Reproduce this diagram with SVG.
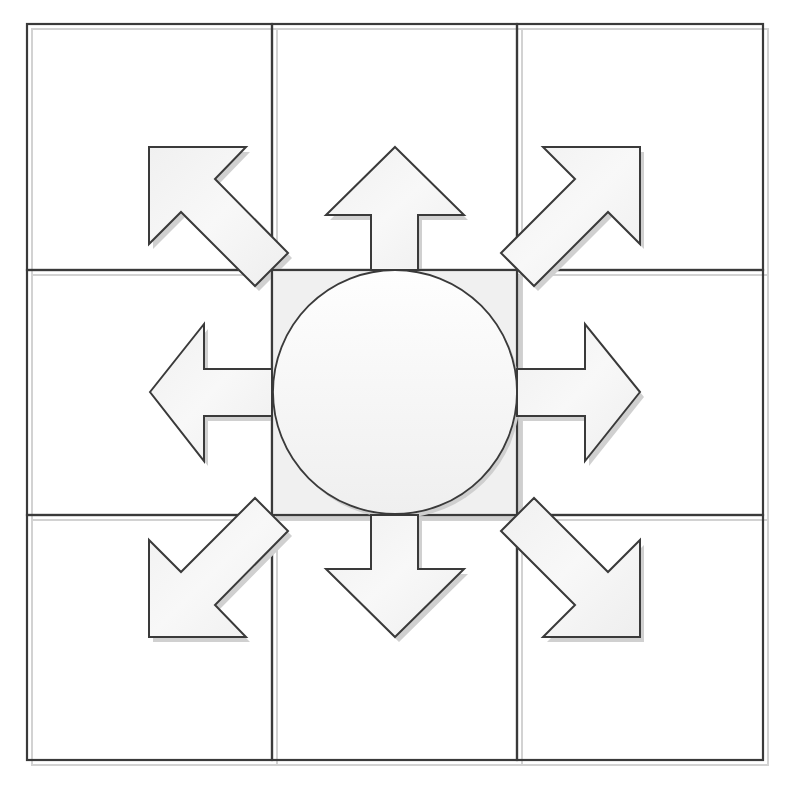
<svg xmlns="http://www.w3.org/2000/svg" xmlns:xlink="http://www.w3.org/1999/xlink" width="797" height="786" viewBox="0 0 797 786">
  <style>
    .cell { fill: none; stroke: #3a3a3a; stroke-width: 2.2; }
    .cellsh { fill: none; stroke: #d2d2d2; stroke-width: 2; }
    .arrow { fill: url(#agrad); stroke: #3a3a3a; stroke-width: 2; stroke-linejoin: miter; }
    .ash { fill: #d0d0d0; stroke: none; }
    .hub { fill: #f0f0f0; stroke: #3a3a3a; stroke-width: 2.2; }
    .hubsh { fill: #cfcfcf; }
    .circ { fill: url(#cgrad); stroke: #3a3a3a; stroke-width: 1.8; }
  </style>
  <defs>
    <linearGradient id="agrad" x1="0" y1="0" x2="1" y2="1">
      <stop offset="0" stop-color="#f0f0f0"/>
      <stop offset="0.5" stop-color="#f8f8f8"/>
      <stop offset="1" stop-color="#eeeeee"/>
    </linearGradient>
    <linearGradient id="cgrad" x1="0" y1="0" x2="0" y2="1">
      <stop offset="0" stop-color="#fefefe"/>
      <stop offset="1" stop-color="#efefef"/>
    </linearGradient>
    <polygon id="pNW" points="149,147 246,147 215,179 288,253 255,286 181,212 149,244"/>
    <polygon id="pN" points="395,147 464,215 418,215 418,270 371,270 371,215 326,215"/>
    <polygon id="pNE" points="640,147 543,147 575,179 501,253 534,286 608,212 640,244"/>
    <polygon id="pE" points="640,392 585,461 585,416 517,416 517,369 585,369 585,324"/>
    <polygon id="pSE" points="640,637 543,637 575,605 501,531 534,498 608,572 640,540"/>
    <polygon id="pS" points="395,637 464,569 418,569 418,515 371,515 371,569 326,569"/>
    <polygon id="pSW" points="149,637 246,637 215,605 288,531 255,498 181,572 149,540"/>
    <polygon id="pW" points="150,392 204,324 204,369 272,369 272,416 204,416 204,461"/>
  </defs>

  <g id="cell-shadows">
    <rect class="cellsh" x="32" y="29" width="245" height="246"/>
    <rect class="cellsh" x="277" y="29" width="245" height="246"/>
    <rect class="cellsh" x="522" y="29" width="246" height="246"/>
    <rect class="cellsh" x="32" y="275" width="245" height="245"/>
    <rect class="cellsh" x="522" y="275" width="246" height="245"/>
    <rect class="cellsh" x="32" y="520" width="245" height="245"/>
    <rect class="cellsh" x="277" y="520" width="245" height="245"/>
    <rect class="cellsh" x="522" y="520" width="246" height="245"/>
  </g>

  <g id="cell-nw"><rect class="cell" x="27" y="24" width="245" height="246"/></g>
  <g id="cell-n"><rect class="cell" x="272" y="24" width="245" height="246"/></g>
  <g id="cell-ne"><rect class="cell" x="517" y="24" width="246" height="246"/></g>
  <g id="cell-w"><rect class="cell" x="27" y="270" width="245" height="245"/></g>
  <g id="cell-e"><rect class="cell" x="517" y="270" width="246" height="245"/></g>
  <g id="cell-sw"><rect class="cell" x="27" y="515" width="245" height="245"/></g>
  <g id="cell-s"><rect class="cell" x="272" y="515" width="245" height="245"/></g>
  <g id="cell-se"><rect class="cell" x="517" y="515" width="246" height="245"/></g>

  <g id="arrow-shadows">
    <use xlink:href="#pNW" class="ash" transform="translate(4,5)"/>
    <use xlink:href="#pN" class="ash" transform="translate(4,5)"/>
    <use xlink:href="#pNE" class="ash" transform="translate(4,5)"/>
    <use xlink:href="#pE" class="ash" transform="translate(4,5)"/>
    <use xlink:href="#pSE" class="ash" transform="translate(4,5)"/>
    <use xlink:href="#pS" class="ash" transform="translate(4,5)"/>
    <use xlink:href="#pSW" class="ash" transform="translate(4,5)"/>
    <use xlink:href="#pW" class="ash" transform="translate(4,5)"/>
  </g>

  <g id="hub">
    <rect class="hubsh" x="277" y="275" width="245" height="245"/>
    <rect class="hub" x="272" y="270" width="245" height="245"/>
    <circle cx="398" cy="396" r="122" fill="#cfcfcf"/>
    <circle class="circ" cx="395" cy="392" r="122"/>
  </g>

  <g id="connectors">
    <g id="arrow-nw"><use xlink:href="#pNW" class="arrow"/></g>
    <g id="arrow-n"><use xlink:href="#pN" class="arrow"/></g>
    <g id="arrow-ne"><use xlink:href="#pNE" class="arrow"/></g>
    <g id="arrow-e"><use xlink:href="#pE" class="arrow"/></g>
    <g id="arrow-se"><use xlink:href="#pSE" class="arrow"/></g>
    <g id="arrow-s"><use xlink:href="#pS" class="arrow"/></g>
    <g id="arrow-sw"><use xlink:href="#pSW" class="arrow"/></g>
    <g id="arrow-w"><use xlink:href="#pW" class="arrow"/></g>
  </g>
</svg>
